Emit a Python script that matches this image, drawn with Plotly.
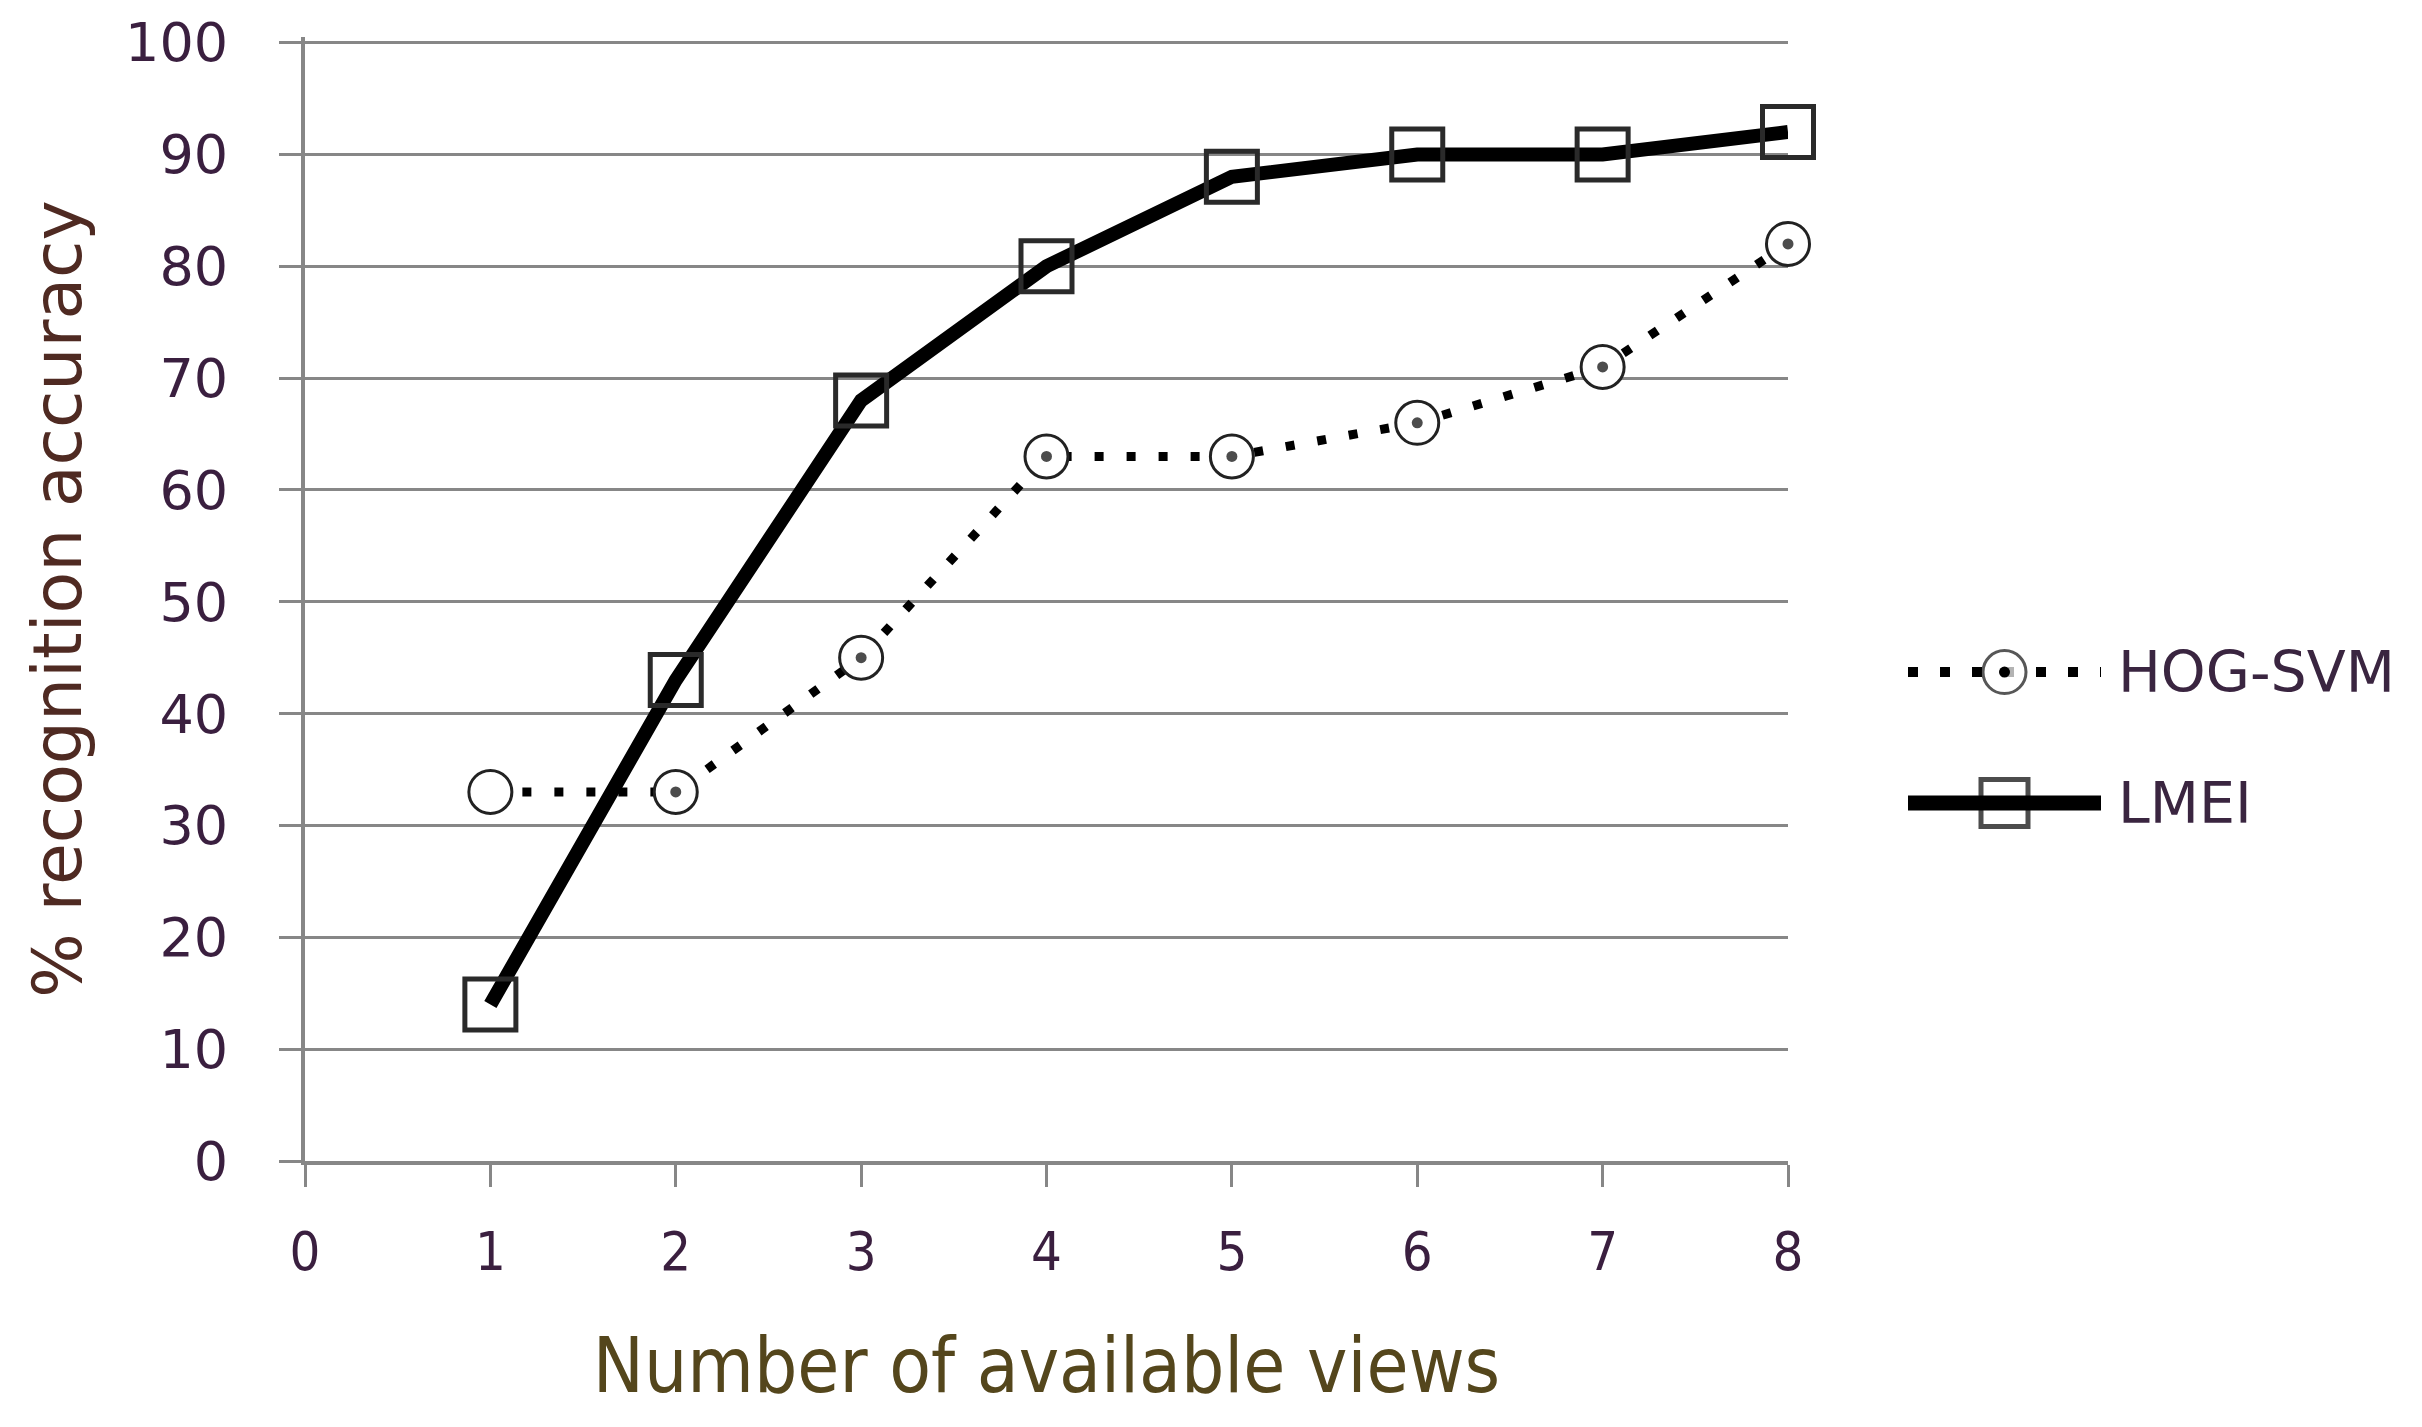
import plotly.graph_objects as go

views = [1, 2, 3, 4, 5, 6, 7, 8]
hog_svm = [33, 33, 45, 63, 63, 66, 71, 82]
lmei = [14, 43, 68, 80, 88, 90, 90, 92]
series_names = ["HOG-SVM", "LMEI"]
x_ticks = [0, 1, 2, 3, 4, 5, 6, 7, 8]
y_ticks = [0, 10, 20, 30, 40, 50, 60, 70, 80, 90, 100]

GRID = "#878787"
TICKCOL = "#3a1f3f"
W, H = 2422, 1427
L, R, T, B = 297, 0, 29, 274
PLOT_W = W - L - R
MAIN_RIGHT = 1780
LEG_X0, LEG_X1, LEG_TXT = 1900, 2093, 2108

fig = go.Figure()

# main series
fig.add_trace(go.Scatter(
    x=views, y=hog_svm, name=series_names[0], mode="lines+markers", showlegend=False,
    cliponaxis=False,
    line=dict(color="black", width=9, dash="9px,23px"),
    marker=dict(symbol="circle", size=43, color="white", line=dict(color="#222222", width=3)),
))
fig.add_trace(go.Scatter(
    x=views, y=hog_svm, mode="markers", showlegend=False, cliponaxis=False,
    hoverinfo="skip",
    marker=dict(symbol="circle", size=[0] + [11] * 7, color="black", line=dict(width=0)),
))
fig.add_trace(go.Scatter(
    x=views, y=lmei, name=series_names[1], mode="lines+markers", showlegend=False,
    cliponaxis=False,
    line=dict(color="black", width=14),
    marker=dict(symbol="square-open", size=51, color="#2a2a2a", line=dict(color="#2a2a2a", width=5)),
))

# custom legend drawn on a hidden helper axis so samples can be large like the reference
leg_y = [0.435, 0.3185]
fig.add_trace(go.Scatter(
    x=[0, 0.5, 1], y=[leg_y[0]] * 3, xaxis="x2", yaxis="y2", mode="lines+markers",
    showlegend=False, hoverinfo="skip", cliponaxis=False,
    line=dict(color="black", width=10, dash="10px,22px"),
    marker=dict(symbol="circle", size=[0, 43, 0], color="white", line=dict(color="#111111", width=3)),
))
fig.add_trace(go.Scatter(
    x=[0.5], y=[leg_y[0]], xaxis="x2", yaxis="y2", mode="markers",
    showlegend=False, hoverinfo="skip", cliponaxis=False,
    marker=dict(symbol="circle", size=11, color="black", line=dict(width=0)),
))
fig.add_trace(go.Scatter(
    x=[0, 0.5, 1], y=[leg_y[1]] * 3, xaxis="x2", yaxis="y2", mode="lines+markers",
    showlegend=False, hoverinfo="skip", cliponaxis=False,
    line=dict(color="black", width=15),
    marker=dict(symbol="square-open", size=[0, 47, 0], color="black", line=dict(color="black", width=5)),
))
for name, yy in zip(series_names, leg_y):
    fig.add_annotation(text=name, xref="paper", yref="y2", x=(LEG_TXT - L) / PLOT_W, y=yy,
                       xanchor="left", yanchor="middle", showarrow=False,
                       font=dict(family="DejaVu Sans", size=57, color="#3a2540"))

fig.update_layout(
    width=W, height=H,
    paper_bgcolor="white", plot_bgcolor="white",
    margin=dict(l=L, r=R, t=T, b=B, autoexpand=False),
    font=dict(family="DejaVu Sans", color=TICKCOL),
    showlegend=False,
    xaxis=dict(
        domain=[0, (MAIN_RIGHT - L) / PLOT_W], anchor="y",
        range=[0, 8], tickvals=x_ticks, ticktext=[str(v) for v in x_ticks],
        showgrid=False, zeroline=False,
        showline=True, linecolor=GRID, linewidth=4,
        ticks="outside", ticklen=22, tickwidth=3, tickcolor=GRID,
        tickfont=dict(family="DejaVu Sans Condensed", size=54, color=TICKCOL), ticklabelstandoff=18,
        title=dict(text="Number of available views",
                   font=dict(family="DejaVu Sans Condensed", size=76, color="#54461c"), standoff=58),
    ),
    yaxis=dict(
        domain=[0, 1], anchor="x",
        range=[0, 100.5], tickvals=y_ticks, ticktext=[str(v) for v in y_ticks],
        showgrid=True, gridcolor=GRID, gridwidth=3, zeroline=False,
        showline=True, linecolor=GRID, linewidth=4,
        ticks="outside", ticklen=22, tickwidth=3, tickcolor=GRID,
        tickfont=dict(size=54, color=TICKCOL), ticklabelstandoff=40,
        title=dict(text="% recognition accuracy", font=dict(size=68, color="#4f2a22"), standoff=22),
    ),
    xaxis2=dict(domain=[(LEG_X0 - L) / PLOT_W, (LEG_X1 - L) / PLOT_W], range=[0, 1],
                visible=False, anchor="y2"),
    yaxis2=dict(domain=[0, 1], range=[0, 1], visible=False, anchor="x2"),
)

fig.write_html("out.html")
